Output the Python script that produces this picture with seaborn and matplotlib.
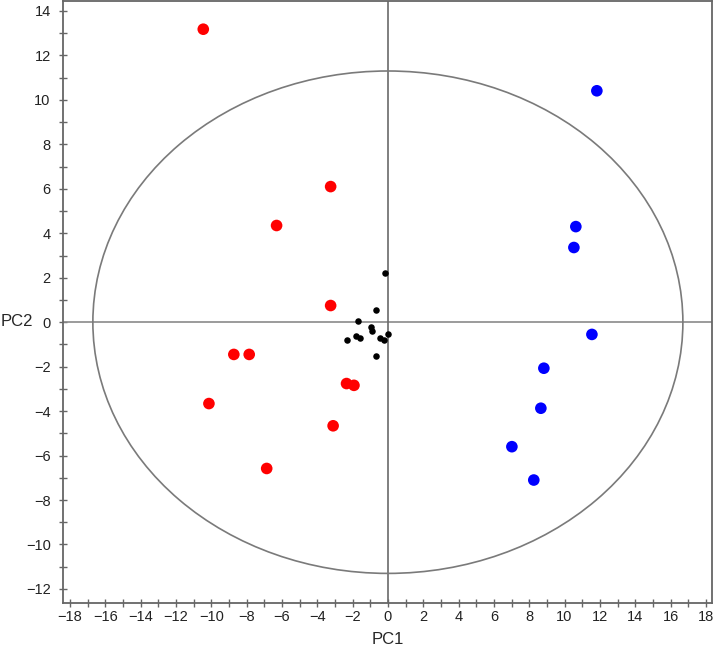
import numpy as np
import pandas as pd
import seaborn as sns
import matplotlib.pyplot as plt
from matplotlib.patches import Ellipse
from matplotlib.ticker import MultipleLocator

# scores
red_pc1 = [-10.45, -3.24, -6.30, -3.24, -8.72, -7.85, -10.13, -2.34, -1.92, -3.10, -6.86]
red_pc2 = [13.18, 6.10, 4.35, 0.75, -1.45, -1.45, -3.66, -2.76, -2.84, -4.66, -6.58]

blue_pc1 = [11.83, 10.64, 10.53, 11.55, 8.83, 8.66, 7.02, 8.26]
blue_pc2 = [10.41, 4.30, 3.36, -0.55, -2.07, -3.87, -5.60, -7.10]

black_pc1 = [-0.17, -0.70, -1.71, -0.98, -0.89, 0.02, -1.82, -1.58, -2.34, -0.45, -0.23, -0.68]
black_pc2 = [2.21, 0.53, 0.04, -0.22, -0.41, -0.55, -0.61, -0.71, -0.82, -0.71, -0.82, -1.50]

ellipse_a = 16.7
ellipse_b = 11.3

frame = pd.DataFrame({
    'PC1': red_pc1 + blue_pc1 + black_pc1,
    'PC2': red_pc2 + blue_pc2 + black_pc2,
    'group': ['A'] * len(red_pc1) + ['B'] * len(blue_pc1) + ['C'] * len(black_pc1),
})

sns.set_style('white')
plt.rcParams['font.family'] = ['Liberation Sans', 'DejaVu Sans']

fig = plt.figure(figsize=(7.14, 6.48), dpi=100)
ax = fig.add_axes([0.0885, 0.0695, 0.908, 0.929])

ax.axhline(0, color='#8a8a8a', lw=1.2, zorder=1)
ax.axvline(0, color='#6a6a6a', lw=1.2, zorder=1)
ax.add_patch(Ellipse((0, 0), 2 * ellipse_a, 2 * ellipse_b, fill=False,
                     edgecolor='#7a7a7a', lw=1.2, zorder=1))

big = frame[frame['group'] != 'C']
small = frame[frame['group'] == 'C']
sns.scatterplot(data=big, x='PC1', y='PC2', hue='group',
                palette={'A': '#ff0000', 'B': '#0000ff'},
                s=70, linewidth=0, legend=False, ax=ax, zorder=3)
sns.scatterplot(data=small, x='PC1', y='PC2', color='black',
                s=22, linewidth=0, legend=False, ax=ax, zorder=3)

ax.set_xlim(-18.38, 18.32)
ax.set_ylim(-12.63, 14.45)
ax.xaxis.set_major_locator(MultipleLocator(2))
ax.xaxis.set_minor_locator(MultipleLocator(1))
ax.yaxis.set_major_locator(MultipleLocator(2))
ax.yaxis.set_minor_locator(MultipleLocator(1))
ax.tick_params(which='both', direction='inout', length=6, width=1, color='#666666',
               bottom=True, left=True, top=False, right=False)
ax.tick_params(axis='x', which='major', labelsize=10.5, pad=2, labelcolor='#222222')
ax.tick_params(axis='y', which='major', labelsize=10.5, pad=6, labelcolor='#222222')

for side in ax.spines.values():
    side.set_color('#666666')
    side.set_linewidth(1.3)

ax.set_xlabel('PC1', fontsize=12)
ax.set_ylabel('PC2', fontsize=12, rotation=0, va='center', ha='center')
ax.xaxis.set_label_coords(0.5, -0.048)
ax.yaxis.set_label_coords(-0.071, 0.467)

fig.savefig('out.png', dpi=100)
